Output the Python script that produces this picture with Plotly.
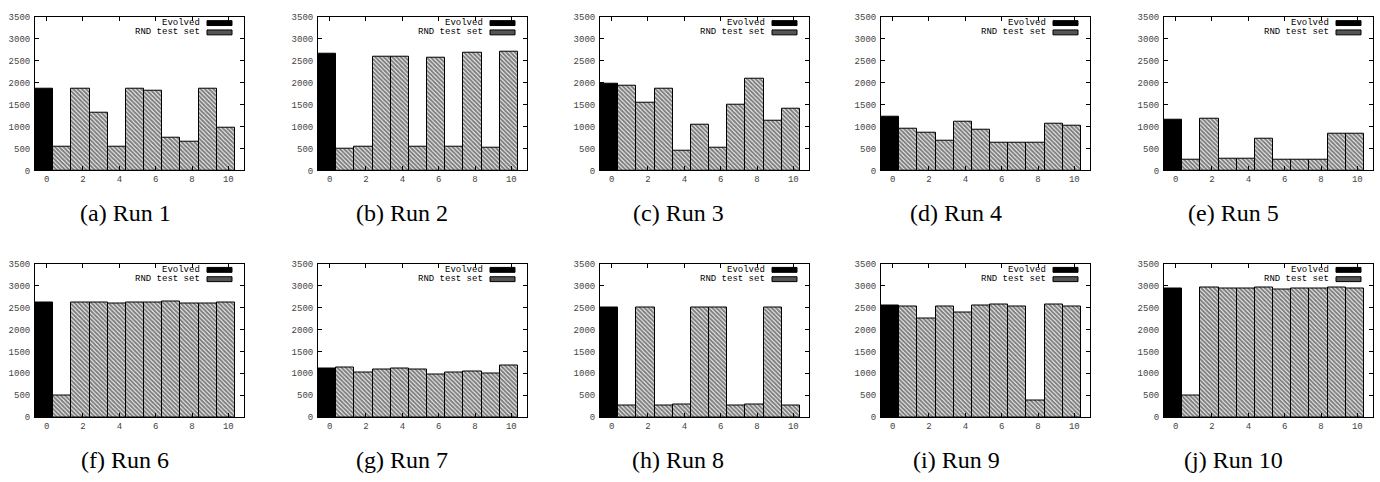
import plotly.graph_objects as go

# ---------------- data ----------------
evolved_x = [0]
rnd_x = [1, 2, 3, 4, 5, 6, 7, 8, 9, 10]
x_tick_vals = [0, 2, 4, 6, 8, 10]
y_tick_vals = [0, 500, 1000, 1500, 2000, 2500, 3000, 3500]
captions = ["(a) Run 1", "(b) Run 2", "(c) Run 3", "(d) Run 4", "(e) Run 5",
            "(f) Run 6", "(g) Run 7", "(h) Run 8", "(i) Run 9", "(j) Run 10"]

evolved = [1850, 2650, 1970, 1230, 1160, 2620, 1110, 2500, 2550, 2930]

rnd_run1 = [530, 1850, 1320, 550, 1870, 1820, 750, 650, 1860, 980]
rnd_run2 = [500, 530, 2580, 2600, 550, 2560, 530, 2670, 520, 2710]
rnd_run3 = [1930, 1540, 1870, 450, 1050, 520, 1490, 2090, 1140, 1400]
rnd_run4 = [940, 870, 680, 1110, 920, 630, 630, 630, 1070, 1030]
rnd_run5 = [250, 1170, 260, 260, 720, 250, 240, 250, 840, 830]
rnd_run6 = [490, 2620, 2620, 2580, 2620, 2620, 2640, 2600, 2600, 2620]
rnd_run7 = [1130, 1010, 1090, 1120, 1080, 970, 1030, 1050, 990, 1170]
rnd_run8 = [260, 2490, 270, 280, 2490, 2490, 260, 280, 2500, 260]
rnd_run9 = [2530, 2250, 2530, 2380, 2540, 2560, 2510, 380, 2560, 2510]
rnd_run10 = [490, 2950, 2920, 2940, 2960, 2900, 2920, 2940, 2960, 2920]

rnd_runs = [rnd_run1, rnd_run2, rnd_run3, rnd_run4, rnd_run5,
            rnd_run6, rnd_run7, rnd_run8, rnd_run9, rnd_run10]

# ---------------- layout geometry ----------------
W, H = 1380, 482
col_left = [35, 318, 600, 881, 1164]
plot_w = 209
row_top = [13, 265]
plot_h = 157
caption_x = [125, 402, 678, 956, 1233]
caption_y = [213, 466]

mono = "Liberation Mono, Courier New, monospace"
serif = "Liberation Serif, Times New Roman, serif"

fig = go.Figure()
layout = {}
shapes = []
annotations = []

for k in range(10):
    r, c = divmod(k, 5)
    idx = "" if k == 0 else str(k + 1)
    xa, ya = "x" + idx, "y" + idx
    fig.add_trace(go.Bar(
        x=evolved_x, y=[evolved[k]], xaxis=xa, yaxis=ya,
        width=1.0, offset=-0.64,
        marker=dict(color="black", line=dict(color="black", width=1)),
        showlegend=False, name="Evolved"))
    fig.add_trace(go.Bar(
        x=rnd_x, y=rnd_runs[k], xaxis=xa, yaxis=ya,
        width=1.0, offset=-0.64,
        marker=dict(color="white", line=dict(color="black", width=1),
                    pattern=dict(shape="\\", fgcolor="black", bgcolor="white",
                                 size=3, solidity=0.7)),
        showlegend=False, name="RND test set"))

    x0 = col_left[c] / W
    x1 = (col_left[c] + plot_w) / W
    y1 = 1 - row_top[r] / H
    y0 = 1 - (row_top[r] + plot_h) / H
    common = dict(showline=True, linecolor="black", linewidth=1, mirror="ticks",
                  ticks="inside", ticklen=4, tickcolor="black", showgrid=False,
                  zeroline=False,
                  tickfont=dict(family=mono, size=9, color="#444"))
    layout["xaxis" + idx] = dict(domain=[x0, x1], anchor=ya, range=[-0.64, 10.86],
                                 tickvals=x_tick_vals, **common)
    layout["yaxis" + idx] = dict(domain=[y0, y1], anchor=xa, range=[0, 3500],
                                 tickvals=y_tick_vals, ticklabelstandoff=2, **common)

    # legend (text left of swatch, as in gnuplot key)
    xd, yd = xa + " domain", ya + " domain"
    sw_l = 1 - 37 / plot_w
    sw_r = 1 - 12 / plot_w
    txt_r = 1 - 42 / plot_w
    for j, (label, kind) in enumerate([("Evolved", "solid"), ("RND test set", "hatch")]):
        yc = 1 - (6.5 + 9.5 * j) / plot_h
        annotations.append(dict(xref=xd, yref=yd, x=txt_r, y=yc, text=label,
                                showarrow=False, xanchor="right", yanchor="middle",
                                font=dict(family=mono, size=9, color="black")))
        shapes.append(dict(type="rect", xref=xd, yref=yd, x0=sw_l, x1=sw_r,
                           y0=yc - 2.5 / plot_h, y1=yc + 2.5 / plot_h,
                           line=dict(color="black", width=1),
                           fillcolor="black" if kind == "solid" else "#555"))

    annotations.append(dict(xref="paper", yref="paper", x=caption_x[c] / W,
                            y=1 - caption_y[r] / H, text=captions[k], showarrow=False,
                            xanchor="center", yanchor="middle",
                            font=dict(family=serif, size=24, color="black")))

fig.update_layout(
    width=W, height=H, margin=dict(l=0, r=0, t=0, b=0),
    paper_bgcolor="white", plot_bgcolor="white",
    barmode="overlay", bargap=0, showlegend=False,
    shapes=shapes, annotations=annotations, **layout)

fig.write_html("out.html", config={"displayModeBar": False},
               post_script="document.body.style.margin='0';document.body.style.overflow='hidden';")
